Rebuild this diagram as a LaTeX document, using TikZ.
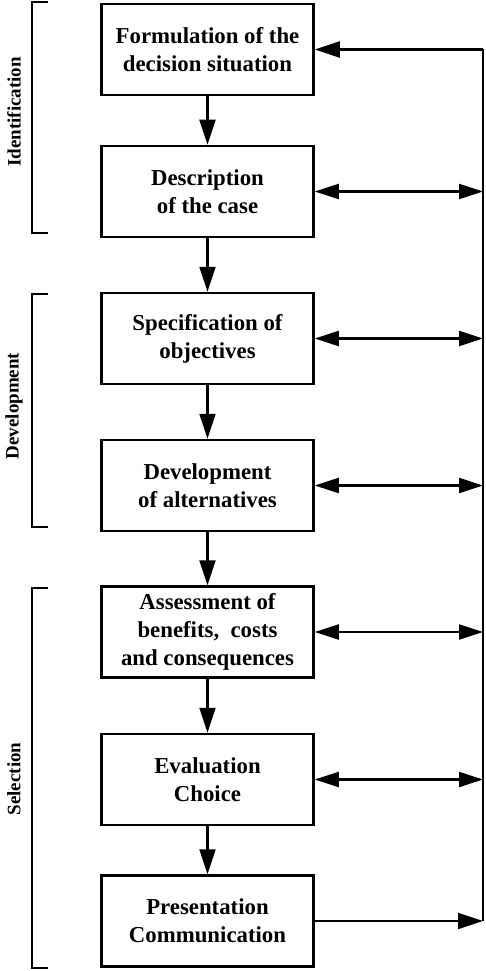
\documentclass[tikz,border=0pt]{standalone}
\usepackage{fontspec}
\setmainfont{Liberation Serif}
\usepackage{tikz}
\usetikzlibrary{arrows.meta}

\tikzset{
  stagebox/.style={draw, line width=2.5pt, minimum width=212pt, minimum height=91pt,
    align=center, inner sep=2pt, font=\bfseries\fontsize{22.8}{28}\selectfont},
  flow/.style={line width=2.2pt, -{Triangle[length=25pt,width=16pt]}},
  both/.style={line width=2.2pt, {Triangle[length=24pt,width=15pt]}-{Triangle[length=24pt,width=15pt]}},
  phase/.style={rotate=90, font=\bfseries\fontsize{19}{21}\selectfont}
}

\begin{document}
\begin{tikzpicture}[x=1pt,y=-1pt]
                \useasboundingbox (0,0) rectangle (485,971);
                % stages
                \node[stagebox] (b1) at (207.5,49.5) {Formulation of the\\decision situation};
                \node[stagebox] (b2) at (207.5,191.5) {Description\\of the case};
                \node[stagebox] (b3) at (207.5,338.5) {Specification of\\objectives};
                \node[stagebox] (b4) at (207.5,485.5) {Development\\of alternatives};
                \node[stagebox] (b5) at (207.5,632) {Assessment of\\benefits,\ \ costs\\and consequences};
                \node[stagebox] (b6) at (207.5,779.5) {Evaluation\\Choice};
                \node[stagebox] (b7) at (207.5,921) {Presentation\\Communication};
                % main flow
                \draw[flow] (b1) -- (b2);
                \draw[flow] (b2) -- (b3);
                \draw[flow] (b3) -- (b4);
                \draw[flow] (b4) -- (b5);
                \draw[flow] (b5) -- (b6);
                \draw[flow] (b6) -- (b7);
                % feedback bus
                \coordinate (bustop) at (483,49.5);
                \coordinate (busend) at (483,921);
                \draw[line width=2.2pt] (bustop) -- (busend);
                \draw[flow] (bustop) -- (b1.east);
                \draw[both] (b2.east) -- (b2.east -| bustop);
                \draw[both] (b3.east) -- (b3.east -| bustop);
                \draw[both] (b4.east) -- (b4.east -| bustop);
                \draw[both] (b5.east) -- (b5.east -| bustop);
                \draw[both] (b6.east) -- (b6.east -| bustop);
                \draw[flow] (b7.east) -- (busend);
                % phases
                \draw[line width=2pt] (48,2) -- (32,2) -- (32,233) -- (48,233);
                \draw[line width=2pt] (48,294) -- (32,294) -- (32,527) -- (48,527);
                \draw[line width=2pt] (48,588) -- (32,588) -- (32,968) -- (48,968);
                \node[phase] (p1) at (14,112) {Identification};
                \node[phase] (p2) at (14,406) {Development};
                \node[phase] (p3) at (14,779) {Selection};
            \end{tikzpicture}
\end{document}
